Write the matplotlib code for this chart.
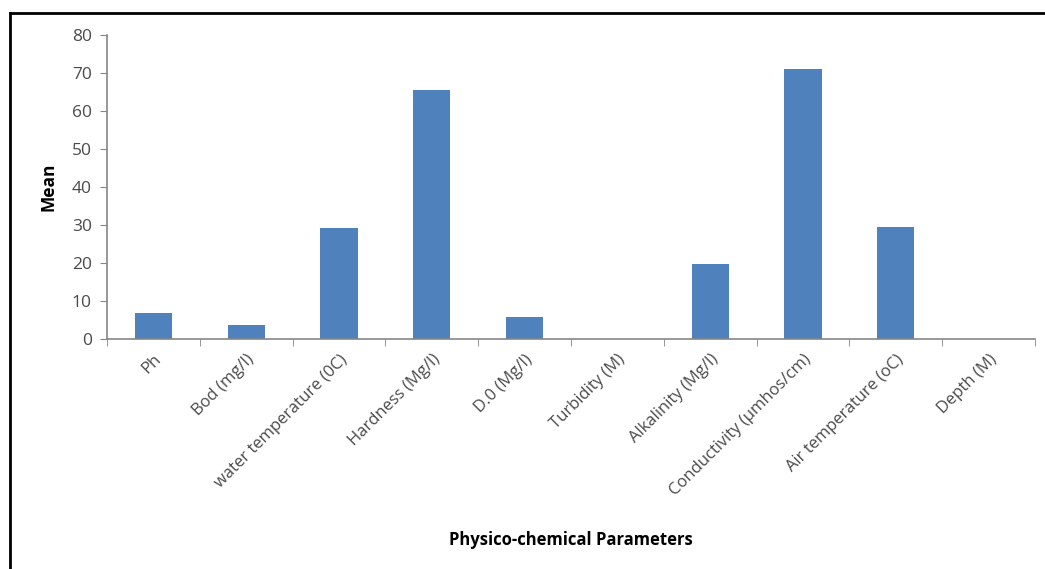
import matplotlib.pyplot as plt
import numpy as np
from matplotlib.lines import Line2D

plt.rcParams['font.family'] = ['Open Sans', 'DejaVu Sans']

# parameters and mean values
params = ["Ph", "Bod (mg/l)", "water temperature (0C)", "Hardness (Mg/l)",
          "D.0 (Mg/l)", "Turbidity (M)", "Alkalinity (Mg/l)",
          "Conductivity (\u00b5mhos/cm)", "Air temperature (oC)", "Depth (M)"]
means = [6.9, 3.6, 29.3, 65.4, 5.7, 0, 19.7, 71.1, 29.6, 0]
yticks = [0, 10, 20, 30, 40, 50, 60, 70, 80]

grey = "#868686"
txt = "#4a4a4a"

fig = plt.figure(figsize=(10.45, 5.69), dpi=100)
ax = fig.add_axes([0.1024, 0.4042, 0.888, 0.5343])

x = np.arange(len(params))
ax.bar(x, means, width=0.4, color="#4F81BD", zorder=2)

ax.set_xlim(-0.5, len(params) - 0.5)
ax.set_ylim(0, 80)
ax.set_yticks(yticks)
ax.set_yticklabels([str(t) for t in yticks], fontsize=12.5, color=txt)

# category labels centred, ticks on boundaries
ax.set_xticks(x)
ax.set_xticklabels(params, rotation=45, ha="right", rotation_mode="anchor",
                   fontsize=12, color=txt)
ax.tick_params(axis="x", which="major", length=0, pad=9)
ax.set_xticks(np.arange(-0.5, len(params)), minor=True)
ax.tick_params(axis="x", which="minor", length=5, color=grey, direction="out")
ax.tick_params(axis="y", length=5, color=grey, direction="out", pad=6)

for s in ["top", "right"]:
    ax.spines[s].set_visible(False)
for s in ["left", "bottom"]:
    ax.spines[s].set_color(grey)
    ax.spines[s].set_linewidth(1.2)

ax.set_ylabel("Mean", fontsize=12.5, fontweight="bold", color="black", labelpad=10)
ax.set_xlabel("Physico-chemical Parameters", fontsize=12, fontweight="bold",
              color="black")
ax.xaxis.set_label_coords(0.5, -0.63)

# outer frame (top and left edge)
fig.add_artist(Line2D([10 / 1045, 1.0], [1 - 13 / 569, 1 - 13 / 569],
                      color="black", linewidth=2, transform=fig.transFigure))
fig.add_artist(Line2D([10 / 1045, 10 / 1045], [0.0, 1 - 13 / 569],
                      color="black", linewidth=2, transform=fig.transFigure))

fig.savefig("out.png", dpi=100)
